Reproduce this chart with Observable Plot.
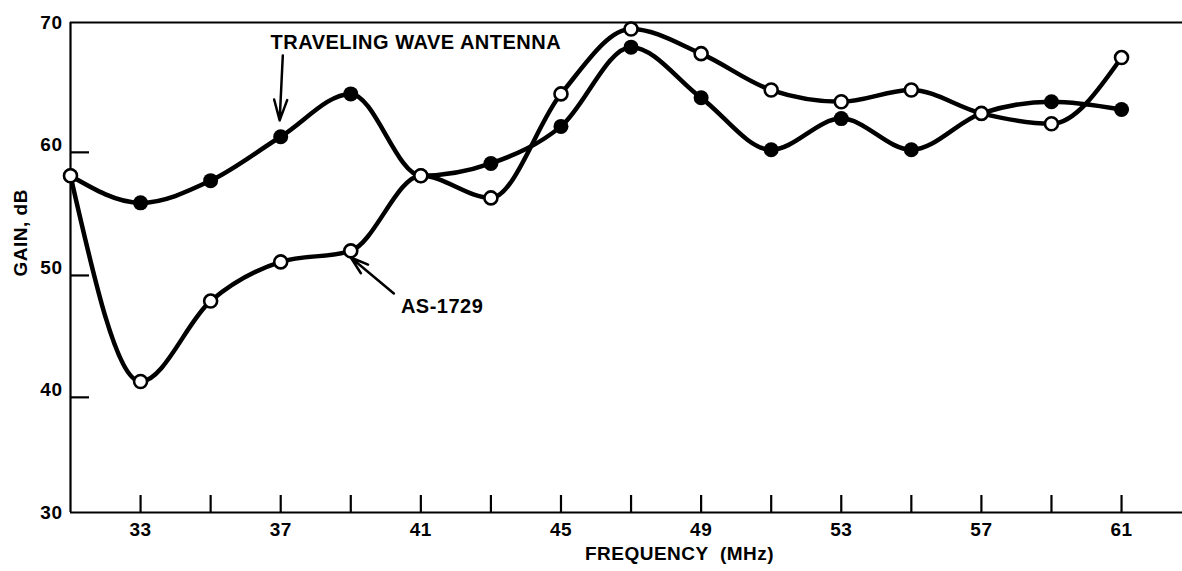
<!DOCTYPE html>
<html><head><meta charset="utf-8">
<script src="https://cdn.jsdelivr.net/npm/d3@7"></script>
<script src="https://cdn.jsdelivr.net/npm/@observablehq/plot@0.6"></script>
<style>
html,body{margin:0;padding:0;background:#fff;}
#chart svg{display:block;}
</style></head><body><div id="chart"></div>
<script>
// Frequencies (MHz) at which gain was measured
const frequency = [31,33,35,37,39,41,43,45,47,49,51,53,55,57,59,61];
// Traveling wave antenna gain (dB) – filled circles
const travelingWave = [58.1,55.9,57.7,61.2,64.5,58.1,59.1,62.0,68.1,64.2,60.2,62.6,60.2,63.0,63.9,63.3];
// AS-1729 gain (dB) – open circles
const as1729 = [58.1,41.3,47.9,51.1,52.0,58.1,56.3,64.5,69.5,67.6,64.8,63.9,64.8,63.0,62.2,67.3];

const xTickMarks = [33,35,37,39,41,43,45,47,49,51,53,55,57,59,61];
const xTickLabels = [33,37,41,45,49,53,57,61];
const yTickMarks = [40,50,60];
const yTickLabels = [30,40,50,60,70];
// the printed grid is slightly uneven: where each gain tick sits on a uniform 30–70 ruler
const yTickPlaced = [30,39.4,49.35,59.4,70];

const labelTexts = ["TRAVELING WAVE ANTENNA","AS-1729"];
const labelX = [36.71,40.43];
const labelY = [68.46,47.46];
const arrowX1 = [37.06,40.23], arrowY1 = [67.46,48.52];
const arrowX2 = [36.97,39.0],  arrowY2 = [62.46,51.46];

const tw = frequency.map((f,i)=>({f, g: travelingWave[i]}));
const as = frequency.map((f,i)=>({f, g: as1729[i]}));
const labels = labelTexts.map((t,i)=>({t, x: labelX[i], y: labelY[i]}));
const arrows = arrowX1.map((_,i)=>({x1: arrowX1[i], y1: arrowY1[i], x2: arrowX2[i], y2: arrowY2[i]}));

const W = 1182, H = 571, mL = 70, mR = 0, mT = 22, mB = 59;
const frameW = W - mL - mR, frameH = H - mT - mB;
const warp = d3.scaleLinear().domain(yTickLabels).range(yTickPlaced);

const chart = Plot.plot({
  width: W, height: H,
  marginLeft: mL, marginRight: mR, marginTop: mT, marginBottom: mB,
  style: {fontFamily: "'Liberation Sans', Arial, sans-serif", fontWeight: "bold", color: "black", background: "white", letterSpacing: "0.5px"},
  x: {domain: [31, 62.74], label: null},
  y: {domain: [30, 70], transform: warp, label: null},
  marks: [
    Plot.ruleY(d3.extent(yTickLabels), {stroke: "black", strokeWidth: 2.2}),
    Plot.ruleX([frequency[0]], {stroke: "black", strokeWidth: 2.2}),
    Plot.tickX(xTickMarks, {x: d => d, insetTop: frameH - 17, stroke: "black", strokeWidth: 2.2}),
    Plot.tickY(yTickMarks, {y: d => d, insetRight: frameW - 19, stroke: "black", strokeWidth: 2.2}),
    Plot.axisX({ticks: xTickLabels, tickSize: 0, tickPadding: 10, fontSize: 19, label: null}),
    Plot.axisY({ticks: yTickLabels, tickSize: 0, tickPadding: 8, fontSize: 19, label: null}),
    Plot.text(["GAIN, dB"], {frameAnchor: "left", rotate: -90, dx: -50, dy: 9, fontSize: 19}),
    Plot.text(["FREQUENCY \u00a0(MHz)"], {frameAnchor: "bottom", dx: 53, dy: 47, fontSize: 19}),
    Plot.line(tw, {x: "f", y: "g", curve: "monotone-x", stroke: "black", strokeWidth: 4.5}),
    Plot.line(as, {x: "f", y: "g", curve: "monotone-x", stroke: "black", strokeWidth: 4.5}),
    Plot.dot(tw, {x: "f", y: "g", r: 7.5, fill: "black", stroke: "none"}),
    Plot.dot(as, {x: "f", y: "g", r: 6.5, fill: "white", stroke: "black", strokeWidth: 2.6}),
    Plot.arrow(arrows, {x1: "x1", y1: "y1", x2: "x2", y2: "y2", stroke: "black", strokeWidth: 2.5, headLength: 16, headAngle: 35}),
    Plot.text(labels, {x: "x", y: "y", text: "t", textAnchor: "start", fontSize: 20})
  ]
});
document.getElementById("chart").appendChild(chart);
</script>
</body></html>
